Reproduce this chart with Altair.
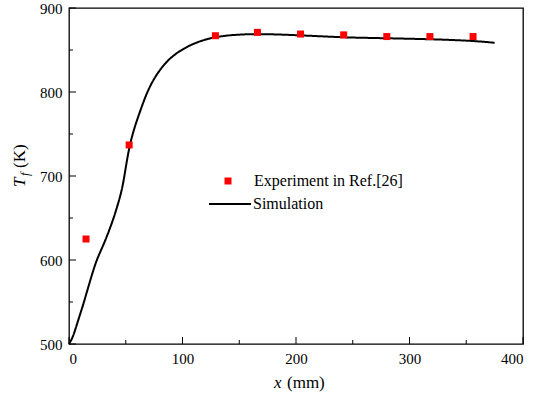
import altair as alt
import pandas as pd

# Experimental points
exp_x = [15, 53, 129, 166, 204, 242, 280, 318, 356]
exp_y = [625, 737, 867, 871, 869, 868, 866, 866, 866]

# Simulation curve
sim_x = [0, 3.5, 8, 12.6, 18.5, 24.4, 30.2, 37.6, 41, 45, 48, 52, 56.7, 62.6,
         71.4, 86, 100.7, 115.4, 130, 142, 165, 204, 242, 256, 318, 356, 375]
sim_y = [500, 508, 528, 547, 575, 601, 617, 643, 657, 675, 692, 728, 754, 777,
         810, 838, 852, 861, 865.7, 867.8, 869.5, 867.5, 865, 864.6, 863, 861, 858.6]

x_major = [0, 100, 200, 300, 400]
x_minor = [50, 150, 250, 350]
y_major = [500, 600, 700, 800, 900]
y_minor = [550, 650, 750, 850]

W, H = 454, 336
FONT = "Liberation Serif"

exp_df = pd.DataFrame({"x": exp_x, "y": exp_y, "series": "Experiment in Ref.[26]"})
sim_df = pd.DataFrame({"x": sim_x, "y": sim_y, "series": "Simulation"})

xs = alt.Scale(domain=[0, 400], nice=False)
ys = alt.Scale(domain=[500, 900], nice=False, zero=False)

xaxis = alt.Axis(values=x_major, ticks=False, domain=False, grid=False, title=None,
                 labelFont=FONT, labelFontSize=15, labelColor="black", labelPadding=7,
                 format="d")
yaxis = alt.Axis(values=y_major, ticks=False, domain=False, grid=False, title=None,
                 labelFont=FONT, labelFontSize=15, labelColor="black", labelPadding=7,
                 format="d")

line = alt.Chart(sim_df).mark_line(color="black", strokeWidth=2, interpolate="basis").encode(
    x=alt.X("x:Q", scale=xs, axis=xaxis),
    y=alt.Y("y:Q", scale=ys, axis=yaxis),
    strokeDash=alt.StrokeDash("series:N", scale=alt.Scale(domain=["Simulation"], range=[[1, 0]]),
                              legend=alt.Legend(orient="none", legendX=139, legendY=174, title=None,
                                                symbolType="stroke", symbolSize=1764,
                                                symbolStrokeWidth=2, symbolStrokeColor="black",
                                                labelFont=FONT, labelFontSize=16, labelColor="black",
                                                labelOffset=1)),
)

pts = alt.Chart(exp_df).mark_square(size=49, opacity=1).encode(
    x=alt.X("x:Q", scale=xs, axis=xaxis),
    y=alt.Y("y:Q", scale=ys, axis=yaxis),
    color=alt.Color("series:N", scale=alt.Scale(domain=["Experiment in Ref.[26]"], range=["#ff0000"]),
                    legend=alt.Legend(orient="none", legendX=151, legendY=165, title=None,
                                      symbolType="square", symbolSize=49, symbolOpacity=1,
                                      labelFont=FONT, labelFontSize=16, labelColor="black",
                                      labelOffset=18)),
)

xmaj = alt.Chart(pd.DataFrame({"v": x_major})).mark_rule(color="black", strokeWidth=1).encode(
    x=alt.X("v:Q", scale=xs, axis=xaxis), y=alt.value(H), y2=alt.value(H - 7))
xmin = alt.Chart(pd.DataFrame({"v": x_minor})).mark_rule(color="black", strokeWidth=1).encode(
    x=alt.X("v:Q", scale=xs, axis=xaxis), y=alt.value(H), y2=alt.value(H - 4))
ymaj = alt.Chart(pd.DataFrame({"v": y_major})).mark_rule(color="black", strokeWidth=1).encode(
    y=alt.Y("v:Q", scale=ys, axis=yaxis), x=alt.value(0), x2=alt.value(7))
ymin = alt.Chart(pd.DataFrame({"v": y_minor})).mark_rule(color="black", strokeWidth=1).encode(
    y=alt.Y("v:Q", scale=ys, axis=yaxis), x=alt.value(0), x2=alt.value(4))

one = pd.DataFrame({"a": [0]})
def txt(s, x, y, size=17, italic=False, angle=0):
    kw = dict(text=s, font=FONT, fontSize=size, color="black", align="left",
              baseline="alphabetic")
    if italic:
        kw["fontStyle"] = "italic"
    if angle:
        kw["angle"] = angle
    return alt.Chart(one).mark_text(**kw).encode(x=alt.value(x), y=alt.value(y))

titles = [
    txt("x", 205, 380, italic=True),
    txt("(mm)", 218, 380),
    txt("T", -44, 179, italic=True, angle=270),
    txt("f", -40, 168, size=12, italic=True, angle=270),
    txt("(K)", -44, 160, angle=270),
]

chart = alt.layer(line, pts, xmaj, xmin, ymaj, ymin, *titles).resolve_legend(
    color="independent", strokeDash="independent"
).properties(
    width=W, height=H,
    autosize=alt.AutoSizeParams(type="none"),
    padding={"left": 69, "top": 8, "right": 10, "bottom": 55},
).configure_view(stroke="black", strokeWidth=1.3
).configure_axis(labelFont=FONT, labelFontSize=15, labelColor="black"
).configure_legend(labelFont=FONT)

chart.save("out.html", embed_options={"renderer": "svg", "actions": False})
